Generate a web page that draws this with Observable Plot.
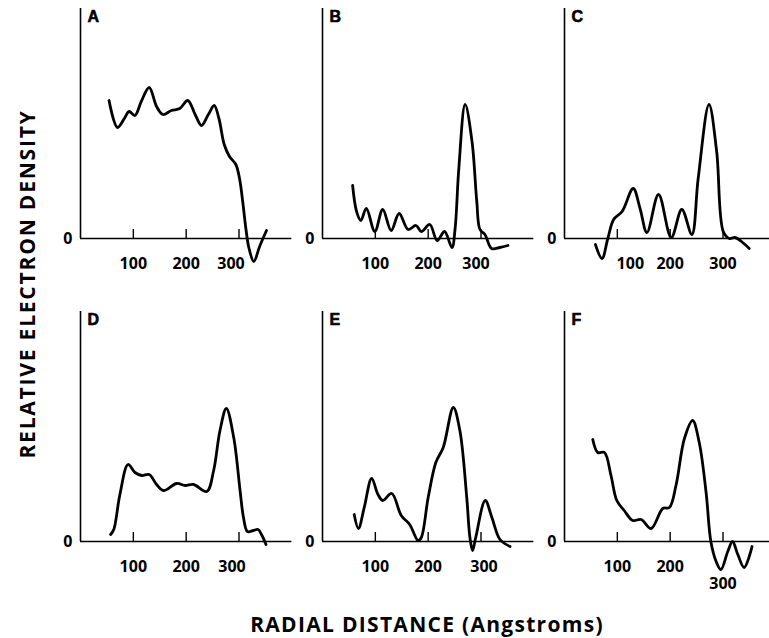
<!DOCTYPE html>
<html><head><meta charset="utf-8">
<script src="https://cdn.jsdelivr.net/npm/d3@7"></script>
<script src="https://cdn.jsdelivr.net/npm/@observablehq/plot@0.6"></script>
<style>
body{margin:0;background:#fff;}
#wrap{position:relative;width:769px;height:638px;overflow:hidden;background:#fff;}
#ytitle{position:absolute;left:27px;top:284px;transform:translate(-50%,-50%) rotate(-90deg);font:700 21px "Open Sans";letter-spacing:1.8px;white-space:nowrap;color:#000;}
#xtitle{position:absolute;left:427px;top:624px;transform:translate(-50%,-50%);font:700 21px "Open Sans";letter-spacing:1.3px;white-space:nowrap;color:#000;}
</style></head>
<body><div id="wrap"><div id="chart"></div><div id="ytitle">RELATIVE ELECTRON DENSITY</div><div id="xtitle">RADIAL DISTANCE (Angstroms)</div></div>
<script>
// Panel letters and their grid placement
const panels = ["A", "B", "C", "D", "E", "F"];
const panelCol = [0, 1, 2, 0, 1, 2];
const panelRow = [0, 0, 0, 1, 1, 1];
const tickValues = [100, 200, 300];
const zeroLabel = ["0"];

// Radial distance (Angstroms) and relative electron density (arbitrary units)
const radiusA = [54,70,83,92,103,115,130,144,156,172,188,203,217,229,242,253,262,272,282,294,301,307,313,319,328,339,352];
const densityA = [138,111,120,127,123,137,151,132,124,128,130,138,124,113,124,133,120,94,82,74,60,37,10,-10,-23,-8,8];

const radiusB = [57,64.5,72.5,83,99,114,130,145,162,177,187,203,217,231,245,251,258,270,283,292,298,307.5,320,335.5,351];
const densityB = [53,27,18,30,7,29,8,25,9,13,7,14,-2,7,-9,10,70,134,97,37,9,4,-10,-9,-7];

const radiusC = [58.5,71,82,93,109,130,143,156,178,202,222,241,253,273.5,288,300.5,312,322.6,335,349.6];
const densityC = [-6,-20,0,19,27,50,30,6,44,1,29,4,60,134,87,7,0,1,-3,-10];

const radiusD = [57,63,74.6,90,103,116,130,144,157,182,198,214,239,252,264,276,290,302,308.5,316,327,336,343.5,351];
const densityD = [7,12,47,77,69,66,67,57,51,58,56,57,50,71,111,133,104,51,24,10,11,12,6,-3];

const radiusE = [60,68,79,93,105,114,131,149,165,181,187,200,214.5,228.5,247.6,260,273,279,284,290,308,320.6,336,355];
const densityE = [27,13,34,63,47,41,48,26,17,1,4,44,79,94,134,111,44,4,-9,4,41,24,2,-5];

const radiusF = [53.5,63,75.6,88,99,113,129,145,164,186,198.5,211,227,242.5,255,268,277,287,296,309,318,328,340,355];
const densityF = [102,89,89,66,41,31,21,22,13,33,34,56,103,121,99,49,0,-20,-28,-10,0,-13,-26,-5];

const radii = {A: radiusA, B: radiusB, C: radiusC, D: radiusD, E: radiusE, F: radiusF};
const densities = {A: densityA, B: densityB, C: densityC, D: densityD, E: densityE, F: densityF};

const rows = [];
panels.forEach((p, i) => {
  radii[p].forEach((r, j) => rows.push({panel: p, col: panelCol[i], row: panelRow[i], r, d: densities[p][j]}));
});
const letters = panels.map((p, i) => ({panel: p, col: panelCol[i], row: panelRow[i]}));
const labels = [];
letters.forEach(l => tickValues.forEach(v => labels.push({...l, value: v})));

// label nudges (layout only)
const nudges = [
  {panel: "A", value: 300, dx: -8, dy: 0},
  {panel: "B", value: 300, dx: -5, dy: 0},
  {panel: "C", value: 100, dx: 13, dy: 0},
  {panel: "D", value: 300, dx: -7, dy: 0},
  {panel: "E", value: 300, dx: 3, dy: 0},
  {panel: "F", value: 300, dx: 0, dy: 17}
];
const isNudged = l => nudges.some(n => n.panel === l.panel && n.value === l.value);
const font = "'Open Sans', sans-serif";
const labelOpts = {x: "value", y: 0, fx: "col", fy: "row", text: d => String(d.value), fontSize: 16, fontWeight: 700, fontFamily: font, lineAnchor: "middle", fill: "#000"};

const marks = [
  Plot.ruleY([0], {x1: 0, x2: 400, stroke: "#000", strokeWidth: 1.6}),
  Plot.ruleX([0], {y1: 0, y2: 230, stroke: "#000", strokeWidth: 1.6}),
  Plot.ruleX(tickValues, {y1: 0, y2: 9, stroke: "#000", strokeWidth: 1.4}),
  Plot.text(zeroLabel, {x: 0, y: 0, text: d => d, dx: -8, textAnchor: "end", lineAnchor: "middle", fontSize: 16, fontWeight: 700, fontFamily: font, fill: "#000"}),
  Plot.text(labels.filter(l => !isNudged(l)), {...labelOpts, dy: 25}),
  ...nudges.map(n => Plot.text(labels.filter(l => l.panel === n.panel && l.value === n.value), {...labelOpts, dx: n.dx, dy: 25 + n.dy})),
  Plot.text(letters, {x: 0, y: 230, fx: "col", fy: "row", text: "panel", dx: 7, dy: 2, textAnchor: "start", lineAnchor: "top", fontSize: 16, fontWeight: 700, fontFamily: "'Liberation Sans', Arial, sans-serif", fill: "#000", stroke: "#000", strokeWidth: 0.6}),
  Plot.line(rows, {x: "r", y: "d", z: "panel", fx: "col", fy: "row", curve: "catmull-rom", stroke: "#000", strokeWidth: 2.8, strokeLinejoin: "round", strokeLinecap: "round"})
];

const chart = Plot.plot({
  width: 769,
  height: 638,
  marginLeft: 80,
  marginRight: 0,
  marginTop: 8,
  marginBottom: 67,
  x: {domain: [0, 388], axis: null},
  y: {domain: [-30, 230], axis: null},
  fx: {domain: [0, 1, 2], paddingInner: 0.153, paddingOuter: 0, axis: null},
  fy: {domain: [0, 1], paddingInner: 0.142, paddingOuter: 0, axis: null},
  style: {background: "#fff", color: "#000"},
  marks
});
document.getElementById("chart").appendChild(chart);
</script>
</body></html>
